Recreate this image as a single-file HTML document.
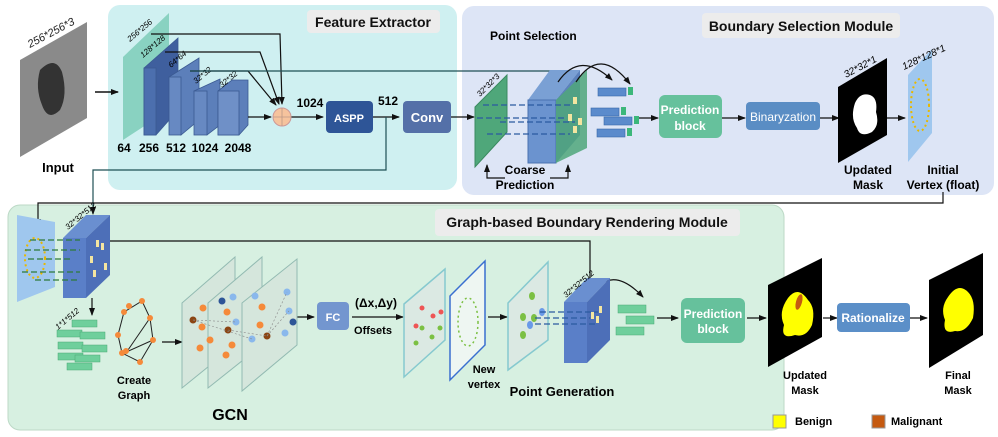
<!DOCTYPE html>
<html><head><meta charset="utf-8"><style>
html,body{margin:0;padding:0;background:#fff}
svg{display:block}
text{font-family:"Liberation Sans",sans-serif}
.b{font-weight:bold}
</style></head><body>
<svg width="998" height="437" viewBox="0 0 998 437" xmlns="http://www.w3.org/2000/svg">
<defs>
<marker id="a" markerWidth="8" markerHeight="8" refX="7" refY="4" orient="auto" markerUnits="userSpaceOnUse"><path d="M0,1 L8,4 L0,7z" fill="#111"/></marker>
</defs>
<!-- panels -->
<rect x="108" y="5" width="349" height="185" rx="12" fill="#cff0f1"/>
<rect x="307" y="10" width="133" height="23" rx="4" fill="#ececec"/>
<text x="373" y="27" font-size="14" class="b" text-anchor="middle" fill="#111">Feature Extractor</text>
<rect x="462" y="6" width="532" height="189" rx="12" fill="#dde5f6"/>
<rect x="702" y="13" width="198" height="25" rx="4" fill="#ececec"/>
<text x="801" y="31" font-size="14" class="b" text-anchor="middle" fill="#111">Boundary Selection Module</text>
<rect x="8" y="205" width="776" height="225" rx="12" fill="#d7f0e1" stroke="#bcd9c6"/>
<rect x="435" y="209" width="305" height="27" rx="4" fill="#ececec"/>
<text x="587" y="227" font-size="14" class="b" text-anchor="middle" fill="#111">Graph-based Boundary Rendering Module</text>

<!-- input -->
<polygon points="20,60 87,22 87,118 20,157" fill="#8a8a8a"/>
<path d="M40,70 Q55,55 62,72 Q68,95 60,110 Q48,122 42,105 Q35,88 40,70z" fill="#333"/>
<text x="30" y="48" font-size="11" font-style="italic" fill="#222" transform="rotate(-28 30 48)">256*256*3</text>
<text x="58" y="172" font-size="13" class="b" text-anchor="middle">Input</text>
<line x1="95" y1="92" x2="118" y2="92" stroke="#111" stroke-width="1.5" marker-end="url(#a)"/>

<!-- feature maps -->
<polygon points="123,57 169,13 169,110 123,140" fill="#7ccdb9" opacity="0.85"/>
<g fill="#4c6fae" stroke="#3b5a92" stroke-width="0.8">
<polygon points="144,68 178,38 178,110 156,135 144,135" fill="#3f5f9e"/>
<rect x="144" y="68" width="12" height="67"/>
<polygon points="169,77 199,58 199,120 181,135" fill="#5c7fba"/>
<rect x="169" y="77" width="12" height="58" fill="#6789c2"/>
<polygon points="194,91 220,79 220,125 207,135" fill="#5c7fba"/>
<rect x="194" y="91" width="13" height="44" fill="#6789c2"/>
<polygon points="218,91 232,80 248,80 248,125 239,135 218,135" fill="#5c7fba"/>
<rect x="218" y="91" width="21" height="44" fill="#6f90c7"/>
</g>
<text x="130" y="42" font-size="8" font-style="italic" transform="rotate(-40 130 42)">256*256</text>
<text x="143" y="58" font-size="8" font-style="italic" transform="rotate(-40 143 58)">128*128</text>
<text x="171" y="68" font-size="8" font-style="italic" transform="rotate(-40 171 68)">64*64</text>
<text x="196" y="84" font-size="8" font-style="italic" transform="rotate(-40 196 84)">32*32</text>
<text x="222" y="88" font-size="8" font-style="italic" transform="rotate(-40 222 88)">32*32</text>
<g font-size="12" class="b" text-anchor="middle">
<text x="124" y="152">64</text><text x="149" y="152">256</text><text x="176" y="152">512</text><text x="205" y="152">1024</text><text x="238" y="152">2048</text>
</g>
<g stroke="#111" stroke-width="1.2" fill="none">
<polyline points="151,34 280,34 282,104" marker-end="url(#a)"/>
<polyline points="165,52 260,52 279,104" marker-end="url(#a)"/>
<polyline points="190,71 248,71 276,105" marker-end="url(#a)"/>
<line x1="190" y1="71" x2="555" y2="71" stroke="#1f4f55"/>
<polyline points="555,71 555,86" marker-end="url(#a)"/>
<line x1="248" y1="117" x2="271" y2="117" marker-end="url(#a)"/>
<line x1="291" y1="117" x2="323" y2="117" marker-end="url(#a)"/>
<line x1="373" y1="117" x2="399" y2="117" marker-end="url(#a)"/>
<polyline points="386,117 386,170 93,170 93,214" stroke="#1f4f55" marker-end="url(#a)"/>
<line x1="451" y1="117" x2="474" y2="117" marker-end="url(#a)"/>
</g>
<circle cx="282" cy="117" r="9" fill="#f6c39d" stroke="#c99"/>
<line x1="273" y1="117" x2="291" y2="117" stroke="#b98" stroke-width="0.8"/>
<line x1="282" y1="108" x2="282" y2="126" stroke="#b98" stroke-width="0.8"/>
<text x="310" y="107" font-size="12" class="b" text-anchor="middle">1024</text>
<rect x="326" y="101" width="47" height="32" rx="4" fill="#2e5597"/>
<text x="349" y="122" font-size="11" class="b" fill="#fff" text-anchor="middle">ASPP</text>
<text x="388" y="105" font-size="12" class="b" text-anchor="middle">512</text>
<rect x="403" y="101" width="48" height="32" rx="4" fill="#5470a8"/>
<text x="427" y="122" font-size="13" class="b" fill="#fff" text-anchor="middle">Conv</text>

<!-- boundary selection -->
<text x="490" y="40" font-size="12" class="b">Point Selection</text>
<polygon points="475,107 507,75 507,132 475,167" fill="#4fa77a" stroke="#3a8a60"/>
<text x="480" y="97" font-size="8" font-style="italic" transform="rotate(-45 480 97)">32*32*3</text>
<polygon points="528,100 550,70 580,70 556,100" fill="#7aa0d4"/>
<rect x="528" y="100" width="28" height="63" fill="#6b93cf" stroke="#4a72b0"/>
<polygon points="556,100 580,70 580,135 556,163" fill="#5c82bd"/>
<polygon points="556,100 587,70 587,148 556,163" fill="#4fa77a" opacity="0.85"/>
<g fill="#f3e5a0"><rect x="573" y="97" width="4" height="7"/><rect x="568" y="114" width="4" height="7"/><rect x="578" y="118" width="4" height="7"/><rect x="573" y="126" width="4" height="7"/></g>
<g stroke="#2b5aa0" stroke-width="1.3" stroke-dasharray="6,3">
<line x1="483" y1="105" x2="570" y2="105"/><line x1="477" y1="118" x2="565" y2="118"/><line x1="500" y1="122" x2="575" y2="122"/><line x1="487" y1="134" x2="570" y2="134"/>
</g>
<g stroke="#111" stroke-width="1.2" fill="none">
<polyline points="505,178 487,178 487,165" marker-end="url(#a)"/>
<polyline points="550,178 568,178 568,165" marker-end="url(#a)"/>
<path d="M558,82 Q580,50 612,80" marker-end="url(#a)"/>
<path d="M576,82 Q600,45 630,84" marker-end="url(#a)"/>
<line x1="638" y1="118" x2="658" y2="118" marker-end="url(#a)"/>
<line x1="722" y1="118" x2="745" y2="118" marker-end="url(#a)"/>
<line x1="820" y1="118" x2="839" y2="118" marker-end="url(#a)"/>
<line x1="887" y1="118" x2="905" y2="118" marker-end="url(#a)"/>
</g>
<text x="525" y="174" font-size="12" class="b" text-anchor="middle">Coarse</text>
<text x="525" y="189" font-size="12" class="b" text-anchor="middle">Prediction</text>
<g fill="#5b8bcc" stroke="#3a6aa8" stroke-width="0.6">
<rect x="598" y="88" width="28" height="8"/><rect x="591" y="108" width="28" height="8"/><rect x="604" y="117" width="28" height="8"/><rect x="597" y="129" width="28" height="8"/>
</g>
<g fill="#3cb77a"><rect x="628" y="87" width="5" height="8"/><rect x="621" y="107" width="5" height="8"/><rect x="634" y="116" width="5" height="8"/><rect x="627" y="128" width="5" height="8"/></g>
<rect x="659" y="95" width="63" height="43" rx="6" fill="#66c19c"/>
<text x="690" y="114" font-size="12" class="b" fill="#fff" text-anchor="middle">Prediction</text>
<text x="690" y="130" font-size="12" class="b" fill="#fff" text-anchor="middle">block</text>
<rect x="746" y="102" width="74" height="28" rx="4" fill="#5a8dc4"/>
<text x="783" y="121" font-size="12" fill="#fff" text-anchor="middle">Binaryzation</text>
<polygon points="838,87 887,58 887,135 838,163" fill="#000"/>
<path d="M855,103 Q860,92 870,95 Q878,98 876,112 Q880,125 872,132 Q860,138 857,128 Q850,118 855,103z" fill="#fff"/>
<text x="846" y="78" font-size="10" font-style="italic" transform="rotate(-28 846 78)">32*32*1</text>
<text x="868" y="174" font-size="12" class="b" text-anchor="middle">Updated</text>
<text x="868" y="189" font-size="12" class="b" text-anchor="middle">Mask</text>
<polygon points="908,75 932,49 932,133 908,162" fill="#9fc7ee"/>
<ellipse cx="920" cy="105" rx="9" ry="26" fill="none" stroke="#e8b800" stroke-width="2" stroke-dasharray="2,3"/>
<text x="904" y="70" font-size="10" font-style="italic" transform="rotate(-25 904 70)">128*128*1</text>
<text x="943" y="174" font-size="12" class="b" text-anchor="middle">Initial</text>
<text x="943" y="189" font-size="12" class="b" text-anchor="middle">Vertex (float)</text>
<polyline points="943,192 943,203 38,203 38,226" fill="none" stroke="#111" stroke-width="1.2" marker-end="url(#a)"/>

<!-- graph module -->
<polygon points="17,215 55,222 55,287 17,302" fill="#9fc7ee"/>
<ellipse cx="35" cy="258" rx="10" ry="20" fill="none" stroke="#e8b800" stroke-width="2" stroke-dasharray="2,3"/>
<polygon points="63,238 86,215 110,215 86,238" fill="#6a8fd0"/>
<polygon points="86,238 110,215 110,275 86,298" fill="#4d6fb8"/>
<rect x="63" y="238" width="23" height="60" fill="#5a7fc8"/>
<g fill="#f3e5a0"><rect x="96" y="240" width="3" height="7"/><rect x="101" y="243" width="3" height="7"/><rect x="90" y="256" width="3" height="7"/><rect x="104" y="263" width="3" height="7"/><rect x="93" y="270" width="3" height="7"/></g>
<g stroke="#2f7a3a" stroke-width="1.2" stroke-dasharray="6,3"><line x1="30" y1="240" x2="80" y2="240"/><line x1="25" y1="250" x2="80" y2="250"/><line x1="28" y1="259" x2="70" y2="259"/><line x1="22" y1="272" x2="80" y2="272"/><line x1="35" y1="280" x2="80" y2="280"/></g>
<text x="68" y="230" font-size="8" font-style="italic" transform="rotate(-40 68 230)">32*32*512</text>
<g stroke="#111" stroke-width="1.2" fill="none">
<polyline points="110,241 590,241 590,290" marker-end="url(#a)"/>
<line x1="92" y1="298" x2="92" y2="315" marker-end="url(#a)"/>
<line x1="162" y1="342" x2="182" y2="342" marker-end="url(#a)"/>
<line x1="297" y1="317" x2="314" y2="317" marker-end="url(#a)"/>
<line x1="352" y1="317" x2="403" y2="317" marker-end="url(#a)"/>
<line x1="488" y1="317" x2="507" y2="317" marker-end="url(#a)"/>
<path d="M590,298 Q610,262 643,297" marker-end="url(#a)"/>
<line x1="657" y1="318" x2="678" y2="318" marker-end="url(#a)"/>
<line x1="747" y1="318" x2="766" y2="318" marker-end="url(#a)"/>
<line x1="823" y1="318" x2="837" y2="318" marker-end="url(#a)"/>
<line x1="910" y1="318" x2="927" y2="318" marker-end="url(#a)"/>
</g>
<text x="58" y="330" font-size="8" font-style="italic" transform="rotate(-40 58 330)">1*1*512</text>
<g fill="#6fcf9c" stroke="#4aa875" stroke-width="0.5">
<rect x="72" y="320" width="25" height="7"/><rect x="57" y="330" width="25" height="7"/><rect x="80" y="332" width="25" height="7"/><rect x="58" y="342" width="25" height="7"/><rect x="82" y="345" width="25" height="7"/><rect x="58" y="353" width="25" height="7"/><rect x="75" y="355" width="25" height="7"/><rect x="67" y="363" width="25" height="7"/>
</g>
<g stroke="#222" stroke-width="1" fill="none"><polygon points="142,301 150,318 153,340 140,362 122,353 118,335 124,312"/><line x1="124" y1="353" x2="153" y2="340"/><line x1="128" y1="350" x2="150" y2="318"/></g>
<g fill="#f58a3a"><circle cx="142" cy="301" r="3"/><circle cx="150" cy="318" r="3"/><circle cx="153" cy="340" r="3"/><circle cx="140" cy="362" r="3"/><circle cx="122" cy="353" r="3"/><circle cx="118" cy="335" r="3"/><circle cx="124" cy="312" r="3"/><circle cx="129" cy="306" r="3"/><circle cx="126" cy="351" r="3"/></g>
<text x="134" y="384" font-size="11" class="b" text-anchor="middle">Create</text>
<text x="134" y="399" font-size="11" class="b" text-anchor="middle">Graph</text>
<g fill="#d5e6dc" stroke="#8cb5ad" opacity="0.9">
<polygon points="182,303 235,257 235,345 182,388"/>
<polygon points="208,303 262,257 262,345 208,388"/>
<polygon points="242,303 297,259 297,345 242,391"/>
</g>
<g fill="#f58a3a"><circle cx="203" cy="308" r="3.5"/><circle cx="202" cy="327" r="3.5"/><circle cx="210" cy="340" r="3.5"/><circle cx="200" cy="348" r="3.5"/><circle cx="227" cy="312" r="3.5"/><circle cx="232" cy="345" r="3.5"/><circle cx="226" cy="355" r="3.5"/><circle cx="262" cy="307" r="3.5"/><circle cx="260" cy="325" r="3.5"/></g>
<g fill="#8b4513"><circle cx="193" cy="320" r="3.5"/><circle cx="228" cy="330" r="3.5"/><circle cx="267" cy="336" r="3.5"/></g>
<g fill="#8ab8ec"><circle cx="233" cy="297" r="3.5"/><circle cx="236" cy="322" r="3.5"/><circle cx="252" cy="339" r="3.5"/><circle cx="287" cy="292" r="3.5"/><circle cx="289" cy="311" r="3.5"/><circle cx="285" cy="333" r="3.5"/><circle cx="255" cy="296" r="3.5"/></g>
<g fill="#2e5597"><circle cx="222" cy="301" r="3.5"/><circle cx="293" cy="322" r="3.5"/></g>
<g stroke="#888" stroke-width="0.6" stroke-dasharray="2,2"><line x1="193" y1="320" x2="236" y2="322"/><line x1="193" y1="320" x2="252" y2="339"/><line x1="228" y1="330" x2="267" y2="336"/><line x1="267" y1="336" x2="287" y2="292"/><line x1="267" y1="336" x2="289" y2="311"/></g>
<text x="230" y="420" font-size="16" class="b" text-anchor="middle">GCN</text>
<rect x="317" y="302" width="32" height="28" rx="4" fill="#7396cf"/>
<text x="333" y="321" font-size="11" class="b" fill="#fff" text-anchor="middle">FC</text>
<text x="376" y="307" font-size="12" class="b" text-anchor="middle">(Δx,Δy)</text>
<text x="373" y="334" font-size="11" class="b" text-anchor="middle">Offsets</text>
<polygon points="404,304 445,269 445,340 404,377" fill="#dbe9e3" stroke="#86c9cf" stroke-width="1.5"/>
<g fill="#e55"><circle cx="422" cy="308" r="2.5"/><circle cx="433" cy="316" r="2.5"/><circle cx="441" cy="312" r="2.5"/><circle cx="416" cy="326" r="2.5"/></g>
<g fill="#7bc043"><circle cx="422" cy="328" r="2.5"/><circle cx="432" cy="337" r="2.5"/><circle cx="440" cy="328" r="2.5"/><circle cx="416" cy="343" r="2.5"/></g>
<polygon points="450,296 485,261 485,345 450,380" fill="#eef6f2" stroke="#3a6fd0" stroke-width="1.5"/>
<ellipse cx="468" cy="322" rx="10" ry="24" fill="none" stroke="#7bc043" stroke-width="1.5" stroke-dasharray="2,3"/>
<text x="484" y="373" font-size="11" class="b" text-anchor="middle">New</text>
<text x="484" y="388" font-size="11" class="b" text-anchor="middle">vertex</text>
<polygon points="508,303 548,262 548,340 508,370" fill="#dbe9e3" stroke="#86c9cf" stroke-width="1.5"/>
<g fill="#7bc043"><ellipse cx="532" cy="296" rx="3" ry="4"/><ellipse cx="523" cy="317" rx="3" ry="4"/><ellipse cx="534" cy="318" rx="3" ry="4"/><ellipse cx="523" cy="335" rx="3" ry="4"/></g>
<g fill="#6a9ae8"><ellipse cx="542" cy="312" rx="3" ry="4"/><ellipse cx="530" cy="325" rx="3" ry="4"/></g>
<polygon points="564,302 587,278 610,278 587,302" fill="#6a8fd0"/>
<polygon points="587,302 610,278 610,340 587,363" fill="#4d6fb8"/>
<rect x="564" y="302" width="23" height="61" fill="#5a7fc8"/>
<g fill="#f3e5a0"><rect x="599" y="306" width="3" height="7"/><rect x="591" y="312" width="3" height="7"/><rect x="596" y="316" width="3" height="7"/></g>
<g stroke="#2b5aa0" stroke-width="1.2" stroke-dasharray="6,3"><line x1="540" y1="312" x2="598" y2="312"/><line x1="535" y1="318" x2="590" y2="318"/><line x1="535" y1="324" x2="595" y2="324"/></g>
<text x="566" y="298" font-size="8" font-style="italic" transform="rotate(-40 566 298)">32*32*512</text>
<text x="562" y="396" font-size="13" class="b" text-anchor="middle">Point Generation</text>
<g fill="#6fcf9c" stroke="#4aa875" stroke-width="0.5"><rect x="618" y="305" width="28" height="8"/><rect x="626" y="316" width="28" height="8"/><rect x="616" y="327" width="28" height="8"/></g>
<rect x="681" y="298" width="64" height="45" rx="6" fill="#66c19c"/>
<text x="713" y="318" font-size="12" class="b" fill="#fff" text-anchor="middle">Prediction</text>
<text x="713" y="333" font-size="12" class="b" fill="#fff" text-anchor="middle">block</text>
<polygon points="768,285 822,258 822,337 768,367" fill="#000"/>
<path d="M788,298 Q798,285 808,300 Q816,308 812,325 Q806,338 795,335 Q780,340 784,325 Q778,312 788,298z" fill="#ff0"/>
<ellipse cx="799" cy="302" rx="3" ry="8" fill="#c55a11" transform="rotate(15 799 302)"/>
<text x="805" y="379" font-size="11" class="b" text-anchor="middle">Updated</text>
<text x="805" y="394" font-size="11" class="b" text-anchor="middle">Mask</text>
<rect x="837" y="303" width="73" height="29" rx="4" fill="#5b8fc8"/>
<text x="873" y="322" font-size="12" class="b" fill="#fff" text-anchor="middle">Rationalize</text>
<polygon points="929,280 983,253 983,335 929,368" fill="#000"/>
<path d="M948,297 Q958,282 968,292 Q976,300 973,318 Q966,333 955,331 Q942,335 945,320 Q940,308 948,297z" fill="#ff0"/>
<text x="958" y="379" font-size="11" class="b" text-anchor="middle">Final</text>
<text x="958" y="394" font-size="11" class="b" text-anchor="middle">Mask</text>
<rect x="773" y="415" width="13" height="13" fill="#ff0" stroke="#999"/>
<text x="795" y="425" font-size="11" class="b">Benign</text>
<rect x="872" y="415" width="13" height="13" fill="#c55a11" stroke="#999"/>
<text x="891" y="425" font-size="11" class="b">Malignant</text>
</svg>
</body></html>
